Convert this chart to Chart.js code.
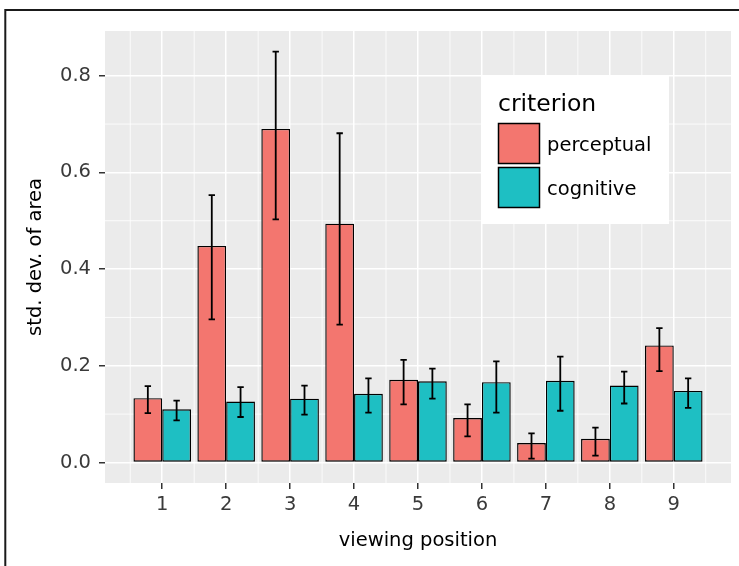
<!DOCTYPE html>
<html><head><meta charset="utf-8">
<script src="https://cdn.jsdelivr.net/npm/chart.js@4.4.1/dist/chart.umd.min.js"></script>
<style>html,body{margin:0;padding:0;background:#fff}canvas{display:block}</style>
</head><body>
<canvas id="c" width="739" height="566" style="width:739px;height:566px"></canvas>
<script>
// ---- data ----
const categories   = [1, 2, 3, 4, 5, 6, 7, 8, 9];
const perceptual   = [0.133, 0.448, 0.690, 0.494, 0.171, 0.092, 0.040, 0.049, 0.242];
const perceptualLo = [0.102, 0.296, 0.503, 0.285, 0.120, 0.054, 0.008, 0.014, 0.189];
const perceptualHi = [0.158, 0.553, 0.850, 0.681, 0.212, 0.120, 0.060, 0.072, 0.278];
const cognitive    = [0.110, 0.126, 0.132, 0.142, 0.168, 0.166, 0.169, 0.159, 0.148];
const cognitiveLo  = [0.087, 0.094, 0.099, 0.103, 0.132, 0.103, 0.107, 0.122, 0.113];
const cognitiveHi  = [0.128, 0.156, 0.159, 0.174, 0.194, 0.209, 0.219, 0.188, 0.174];
const seriesNames  = ['perceptual', 'cognitive'];
const legendTitle  = 'criterion';
const xTitle = 'viewing position';
const yTitle = 'std. dev. of area';
const yMajorTicks = [0.0, 0.2, 0.4, 0.6, 0.8];
const yMinorTicks = [0.1, 0.3, 0.5, 0.7];
const xMinorTicks = [0.5, 1.5, 2.5, 3.5, 4.5, 5.5, 6.5, 7.5, 8.5, 9.5];

// ---- style ----
const FONT = 'DejaVu Sans';
const COLORS = ['#F3766F', '#1EBFC3'];
const PANEL = '#EBEBEB';
const TICK_TEXT = '#3A3A3A';

function pts(vals) { return categories.map((c, i) => ({ x: c, y: vals[i] })); }

const ggPlugin = {
  id: 'gg',
  beforeDraw(chart) {
    const { ctx, chartArea: a, scales: { x, y } } = chart;
    ctx.save();
    ctx.fillStyle = '#fff';
    ctx.fillRect(0, 0, chart.width, chart.height);
    ctx.fillStyle = PANEL;
    ctx.fillRect(a.left, a.top, a.right - a.left, a.bottom - a.top);
    ctx.strokeStyle = '#fff';
    ctx.lineWidth = 0.8;
    ctx.beginPath();
    yMinorTicks.forEach(v => { const p = y.getPixelForValue(v); ctx.moveTo(a.left, p); ctx.lineTo(a.right, p); });
    xMinorTicks.forEach(v => { const p = x.getPixelForValue(v); if (p > a.left && p < a.right) { ctx.moveTo(p, a.top); ctx.lineTo(p, a.bottom); } });
    ctx.stroke();
    // outer frame (top and left)
    ctx.strokeStyle = '#1a1a1a';
    ctx.lineWidth = 2;
    ctx.beginPath();
    ctx.moveTo(5.3, chart.height);
    ctx.lineTo(5.3, 10);
    ctx.lineTo(chart.width, 10);
    ctx.stroke();
    ctx.restore();
  },
  afterDatasetsDraw(chart) {
    const { ctx, scales: { x, y } } = chart;
    const half = (x.getPixelForValue(1.05) - x.getPixelForValue(1));
    ctx.save();
    ctx.strokeStyle = '#000';
    ctx.lineWidth = 1.8;
    chart.data.datasets.forEach((ds, i) => {
      const meta = chart.getDatasetMeta(i);
      meta.data.forEach((bar, j) => {
        const cx = bar.x;
        const top = y.getPixelForValue(ds.errHi[j]);
        const bot = y.getPixelForValue(ds.errLo[j]);
        ctx.beginPath();
        ctx.moveTo(cx, top); ctx.lineTo(cx, bot);
        ctx.moveTo(cx - half, top); ctx.lineTo(cx + half, top);
        ctx.moveTo(cx - half, bot); ctx.lineTo(cx + half, bot);
        ctx.stroke();
      });
    });
    ctx.restore();
  },
  afterDraw(chart) {
    const { ctx, chartArea: a } = chart;
    const bx = a.right - 249, by = a.top + 44, bw = 187, bh = 149;
    ctx.save();
    ctx.fillStyle = '#fff';
    ctx.fillRect(bx, by, bw, bh);
    ctx.fillStyle = '#000';
    ctx.textBaseline = 'alphabetic';
    ctx.textAlign = 'left';
    ctx.font = '23.5px "' + FONT + '"';
    ctx.fillText(legendTitle, bx + 16, by + 36);
    ctx.font = '19.5px "' + FONT + '"';
    chart.data.datasets.forEach((ds, i) => {
      const ky = by + 48.5 + i * 44;
      ctx.fillStyle = ds.backgroundColor;
      ctx.fillRect(bx + 16.5, ky, 41, 40);
      ctx.strokeStyle = '#000';
      ctx.lineWidth = 1.5;
      ctx.strokeRect(bx + 16.5, ky, 41, 40);
      ctx.fillStyle = '#000';
      ctx.fillText(ds.label, bx + 65, ky + 27);
    });
    ctx.restore();
  }
};

const tickFont = { family: FONT, size: 19.5, lineHeight: 1.2 };

new Chart(document.getElementById('c'), {
  type: 'bar',
  data: {
    datasets: [
      { label: seriesNames[0], data: pts(perceptual), errLo: perceptualLo, errHi: perceptualHi,
        backgroundColor: COLORS[0], borderColor: '#000', borderWidth: 1.4, borderSkipped: false,
        categoryPercentage: 0.9, barPercentage: 1.0 },
      { label: seriesNames[1], data: pts(cognitive), errLo: cognitiveLo, errHi: cognitiveHi,
        backgroundColor: COLORS[1], borderColor: '#000', borderWidth: 1.4, borderSkipped: false,
        categoryPercentage: 0.9, barPercentage: 1.0 }
    ]
  },
  options: {
    responsive: false,
    animation: false,
    events: [],
    layout: { padding: { left: 0, top: 31, right: 8, bottom: 0 } },
    plugins: { legend: { display: false }, tooltip: { enabled: false } },
    scales: {
      x: {
        type: 'linear',
        offset: false,
        min: 0.105, max: 9.895,
        afterBuildTicks: s => { s.ticks = categories.map(v => ({ value: v })); },
        afterFit: s => { s.height = 83; },
        ticks: { callback: v => String(v), color: TICK_TEXT, font: tickFont, padding: 4, maxRotation: 0, autoSkip: false },
        grid: { offset: false, color: '#fff', lineWidth: 1.5, tickColor: '#333', tickWidth: 1.5, tickLength: 6 },
        border: { display: false },
        title: { display: true, text: xTitle, color: '#000', font: { family: FONT, size: 19.5, lineHeight: 1.2 }, padding: { top: 0, bottom: 13 } }
      },
      y: {
        type: 'linear',
        min: -0.0425, max: 0.8925,
        afterBuildTicks: s => { s.ticks = yMajorTicks.map(v => ({ value: v })); },
        afterFit: s => { s.width = 105; },
        ticks: { callback: v => v.toFixed(1), color: TICK_TEXT, font: tickFont, padding: 8 },
        grid: { color: '#fff', lineWidth: 1.5, tickColor: '#333', tickWidth: 1.5, tickLength: 6 },
        border: { display: false },
        title: { display: true, text: yTitle, color: '#000', font: { family: FONT, size: 19.5, lineHeight: 1.2 }, padding: { top: 24, bottom: 0 } }
      }
    }
  },
  plugins: [ggPlugin]
});
</script>
</body></html>
